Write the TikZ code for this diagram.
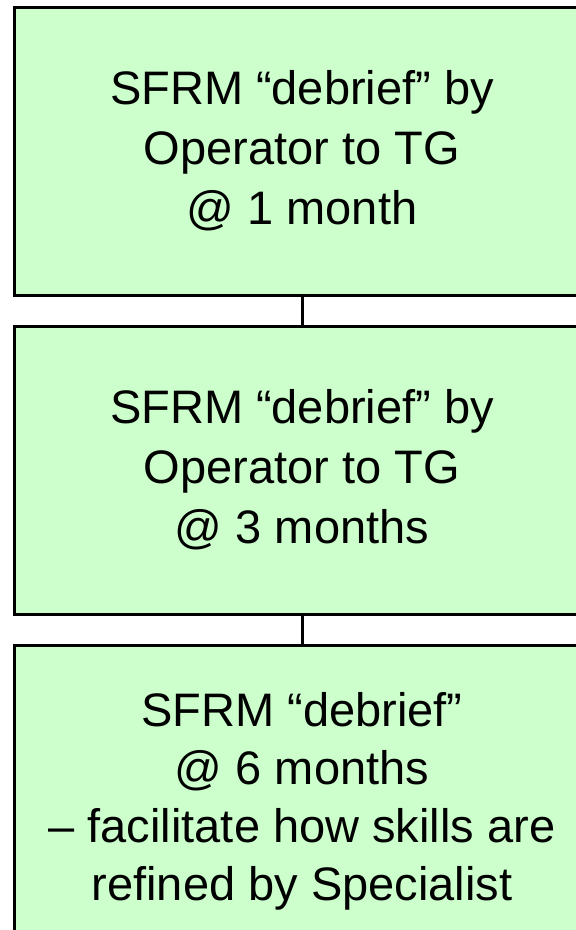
\documentclass[tikz,border=0pt]{standalone}
\usepackage{fontspec}
\setmainfont{Liberation Sans}
\usetikzlibrary{positioning}
\definecolor{boxgreen}{HTML}{CCFFCC}

\begin{document}
\begin{tikzpicture}[x=1pt,y=1pt,line width=3pt,
  stage/.style={draw=black,fill=boxgreen,minimum width=576pt,minimum height=288pt,
    align=center,inner sep=0pt,outer sep=0pt,font=\fontsize{47}{60}\selectfont}]
  \useasboundingbox (0,0) rectangle (576,-930);
  \clip (0,0) rectangle (576,-930);
  \node[stage] (one) at (302,-151) {SFRM “debrief” by\\Operator to TG\\@ 1 month};
  \node[stage,below=31pt of one] (two) {SFRM “debrief” by\\Operator to TG\\@ 3 months};
  \node[stage,below=31pt of two] (three) {};
  \node[font=\fontsize{47}{58}\selectfont,align=center] (txt) at ([yshift=-12pt]three.center)
    {SFRM “debrief”\\@ 6 months\\– facilitate how skills are\\refined by Specialist};
  \draw (one.south)--(two.north);
  \draw (two.south)--(three.north);
\end{tikzpicture}
\end{document}
